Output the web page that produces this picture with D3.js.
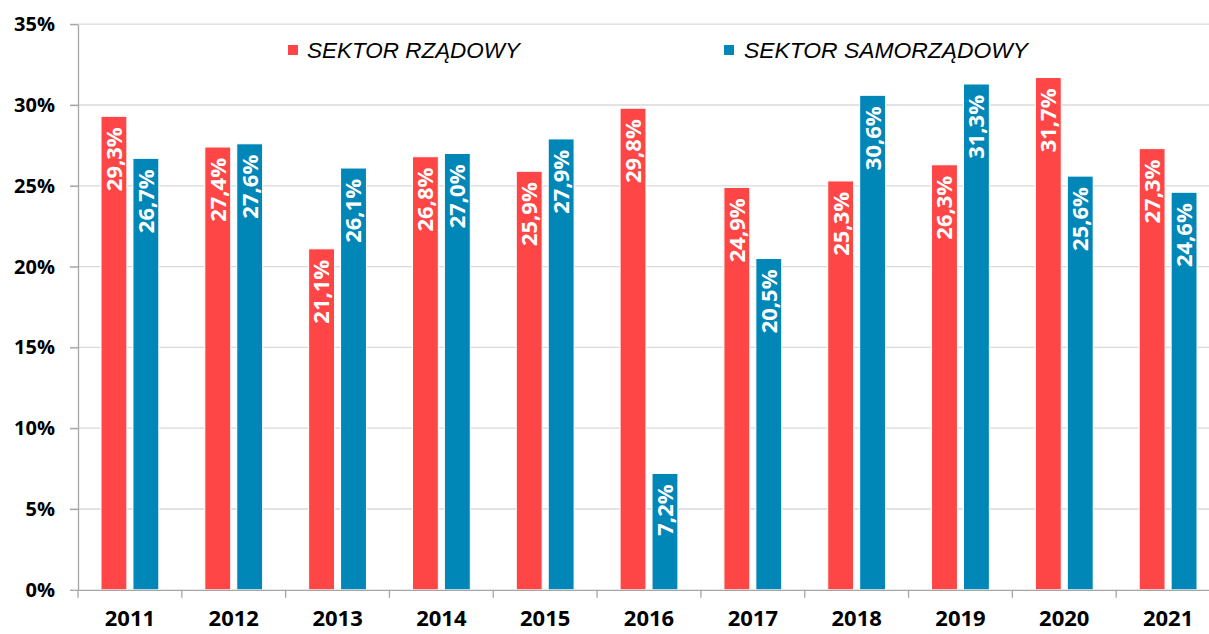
<!DOCTYPE html>
<html>
<head>
<meta charset="utf-8">
<script src="https://cdn.jsdelivr.net/npm/d3@7"></script>
<style>
  html, body { margin: 0; padding: 0; background: #fff; }
  svg { display: block; font-family: "Open Sans", "Liberation Sans", sans-serif; }
</style>
</head>
<body>
<svg id="chart" width="1209" height="634"></svg>
<script>
// Categories and series values (percent)
const years = ["2011","2012","2013","2014","2015","2016","2017","2018","2019","2020","2021"];
const seriesNames = ["SEKTOR RZĄDOWY", "SEKTOR SAMORZĄDOWY"];
const rzadowy =    [29.3, 27.4, 21.1, 26.8, 25.9, 29.8, 24.9, 25.3, 26.3, 31.7, 27.3];
const samorzadowy = [26.7, 27.6, 26.1, 27.0, 27.9, 7.2, 20.5, 30.6, 31.3, 25.6, 24.6];
const yTicks = [0, 5, 10, 15, 20, 25, 30, 35];
const colors = ["#FF4646", "#0087B8"];

const svg = d3.select("#chart");
const plot = { left: 78, right: 1220, top: 24.2, bottom: 589.8 };

const y = d3.scaleLinear().domain([0, 35]).range([plot.bottom, plot.top]);
const x0 = d3.scaleBand().domain(years).range([plot.left, plot.right]).padding(0);
const x1 = d3.scaleBand().domain(seriesNames).range([0, x0.bandwidth()])
  .paddingInner(0.19).paddingOuter(0.72);

const fmt = v => d3.format(".1f")(v).replace(".", ",") + "%";

// Horizontal gridlines
svg.append("g")
  .selectAll("line")
  .data(yTicks.filter(t => t > 0))
  .join("line")
  .attr("x1", plot.left - 8)
  .attr("x2", plot.right)
  .attr("y1", d => y(d))
  .attr("y2", d => y(d))
  .attr("stroke", "#D9D9D9")
  .attr("stroke-width", 1.3);

// Y axis
const yAxis = svg.append("g")
  .attr("transform", `translate(${plot.left},0)`)
  .call(d3.axisLeft(y).tickValues(yTicks).tickFormat(d => d + "%").tickSize(8).tickPadding(15).tickSizeOuter(0));
yAxis.select(".domain").attr("stroke", "#A6A6A6").attr("stroke-width", 1.3);
yAxis.selectAll(".tick line").attr("stroke", "#A6A6A6").attr("stroke-width", 1.3);
yAxis.selectAll(".tick text")
  .attr("font-size", 20).attr("font-weight", 700).attr("fill", "#000")
  .attr("font-family", "'Open Sans', sans-serif");

// Bars
const rows = years.map((yr, i) => ({ year: yr, values: [rzadowy[i], samorzadowy[i]] }));
const groups = svg.append("g")
  .selectAll("g")
  .data(rows)
  .join("g")
  .attr("transform", d => `translate(${x0(d.year)},0)`);

const cells = groups.selectAll("g.cell")
  .data(d => d.values.map((v, k) => ({ name: seriesNames[k], value: v, k })))
  .join("g")
  .attr("class", "cell");

cells.append("rect")
  .attr("x", d => x1(d.name))
  .attr("width", x1.bandwidth())
  .attr("y", d => y(d.value))
  .attr("height", d => y(0) - y(d.value))
  .attr("fill", d => colors[d.k])
  .attr("stroke", "#fff")
  .attr("stroke-width", 1);

// Value labels inside bars, rotated
cells.append("text")
  .attr("transform", d => `translate(${x1(d.name) + x1.bandwidth() / 2},${y(d.value) + 11}) rotate(-90)`)
  .attr("text-anchor", "end")
  .attr("dy", "0.36em")
  .attr("font-size", 22)
  .attr("font-weight", 700)
  .attr("fill", "#fff")
  .text(d => fmt(d.value));

// X axis
const xAxis = svg.append("g")
  .attr("transform", `translate(0,${plot.bottom})`)
  .call(d3.axisBottom(x0).tickSize(0).tickPadding(0).tickSizeOuter(0));
xAxis.select(".domain").attr("stroke", "#A6A6A6").attr("stroke-width", 1.3);
xAxis.selectAll(".tick text")
  .attr("y", 36)
  .attr("dy", 0)
  .attr("font-size", 22).attr("font-weight", 700).attr("fill", "#000")
  .attr("font-family", "'Open Sans', sans-serif");
// Category separators below the axis
svg.append("g")
  .selectAll("line")
  .data(years)
  .join("line")
  .attr("x1", d => x0(d))
  .attr("x2", d => x0(d))
  .attr("y1", plot.bottom)
  .attr("y2", plot.bottom + 8)
  .attr("stroke", "#A6A6A6")
  .attr("stroke-width", 1.3);

// Legend
const legendItems = [
  { name: seriesNames[0], color: colors[0], sx: 288, tx: 307, w: 213 },
  { name: seriesNames[1], color: colors[1], sx: 724, tx: 744, w: 284 }
];
const legend = svg.append("g");
legend.selectAll("rect")
  .data(legendItems)
  .join("rect")
  .attr("x", d => d.sx)
  .attr("y", 45)
  .attr("width", 10)
  .attr("height", 10)
  .attr("fill", d => d.color);
legend.selectAll("text")
  .data(legendItems)
  .join("text")
  .attr("x", d => d.tx)
  .attr("y", 58)
  .attr("font-size", 22)
  .attr("font-style", "italic")
  .attr("fill", "#000")
  .attr("font-family", "'Liberation Sans', sans-serif")
  .attr("textLength", d => d.w)
  .attr("lengthAdjust", "spacingAndGlyphs")
  .text(d => d.name);
</script>
</body>
</html>
